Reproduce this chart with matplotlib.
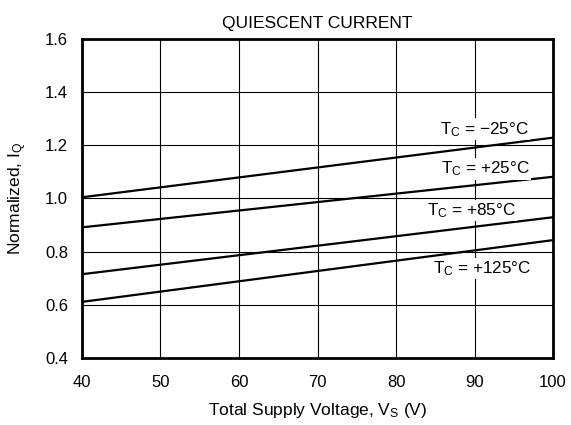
import numpy as np
import matplotlib
matplotlib.use("Agg")
import matplotlib.pyplot as plt

plt.rcParams["font.family"] = ["Liberation Sans", "DejaVu Sans"]
plt.rcParams["mathtext.fontset"] = "custom"
plt.rcParams["mathtext.rm"] = "Liberation Sans"
plt.rcParams["mathtext.it"] = "Liberation Sans"

# supply voltage (V) at the line end points
voltage = [40, 100]
# normalized quiescent current per case temperature
iq_m25 = [1.004, 1.228]
iq_p25 = [0.891, 1.081]
iq_p85 = [0.715, 0.929]
iq_p125 = [0.611, 0.843]

labels = ["T$_\\mathregular{C}$ = \u221225\u00b0C",
          "T$_\\mathregular{C}$ = +25\u00b0C",
          "T$_\\mathregular{C}$ = +85\u00b0C",
          "T$_\\mathregular{C}$ = +125\u00b0C"]
label_pos = [(91.3, 1.26), (91.4, 1.11), (89.6, 0.955), (91.0, 0.737)]

FS = 12.5

fig = plt.figure(figsize=(5.71, 4.25), dpi=100)
ax = fig.add_axes([0.1436, 0.1576, 0.8249, 0.7514])

for ys in (iq_m25, iq_p25, iq_p85, iq_p125):
    ax.plot(voltage, ys, color="black", lw=1.6, solid_capstyle="butt")

for txt, (x, y) in zip(labels, label_pos):
    ax.text(x, y, txt, ha="center", va="center", fontsize=12.3,
            bbox=dict(facecolor="white", edgecolor="none", pad=1.0))

ax.set_xlim(40, 100)
ax.set_ylim(0.4, 1.6)
ax.set_xticks(np.arange(40, 101, 10))
ax.set_yticks(np.arange(0.4, 1.61, 0.2))
ax.set_yticklabels([f"{v:.1f}" for v in np.arange(0.4, 1.61, 0.2)])
ax.grid(True, color="black", lw=0.8)
ax.set_axisbelow(True)
ax.tick_params(axis="x", length=0, labelsize=12, pad=12)
ax.tick_params(axis="y", length=0, labelsize=12, pad=10)
for s in ax.spines.values():
    s.set_linewidth(2.0)

ax.set_title("QUIESCENT CURRENT", fontsize=FS, pad=7.5)
ax.set_xlabel("Total Supply Voltage, V$_\\mathregular{S}$ (V)", fontsize=FS)
ax.set_ylabel("Normalized, I$_\\mathregular{Q}$", fontsize=FS)
ax.xaxis.set_label_coords(0.5, -0.135)
ax.yaxis.set_label_coords(-0.1125, 0.5)

fig.savefig("out.png", dpi=100)
